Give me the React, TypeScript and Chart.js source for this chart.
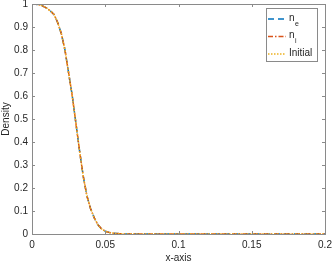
import React, { useEffect, useRef } from "react";
import { Chart, registerables } from "chart.js";

Chart.register(...registerables);

const xValues = [0, 0.0025, 0.005, 0.0075, 0.01, 0.0125, 0.015, 0.0175, 0.02, 0.0225, 0.025, 0.0275, 0.03, 0.0325, 0.035, 0.0375, 0.04, 0.0425, 0.045, 0.0475, 0.05, 0.0525, 0.055, 0.06, 0.065, 0.08, 0.1, 0.12, 0.14, 0.16, 0.18, 0.2];
const neValues = [1.0, 0.999, 0.997, 0.991, 0.982, 0.97, 0.955, 0.92, 0.872, 0.8, 0.7, 0.6, 0.48, 0.36, 0.25, 0.165, 0.11, 0.07, 0.04, 0.022, 0.012, 0.007, 0.004, 0.001, 0, 0, 0, 0, 0, 0, 0, 0];
const niValues = [1.0, 0.999, 0.997, 0.991, 0.982, 0.97, 0.955, 0.92, 0.872, 0.8, 0.7, 0.6, 0.48, 0.36, 0.25, 0.165, 0.11, 0.07, 0.04, 0.022, 0.012, 0.007, 0.004, 0.001, 0, 0, 0, 0, 0, 0, 0, 0];
const initialValues = [1.0, 0.999, 0.997, 0.991, 0.982, 0.97, 0.955, 0.92, 0.872, 0.8, 0.7, 0.6, 0.48, 0.36, 0.25, 0.165, 0.11, 0.07, 0.04, 0.022, 0.012, 0.007, 0.004, 0.001, 0, 0, 0, 0, 0, 0, 0, 0];
const xTickLabels = ["0", "0.05", "0.1", "0.15", "0.2"];
const yTickLabels = ["0", "0.1", "0.2", "0.3", "0.4", "0.5", "0.6", "0.7", "0.8", "0.9", "1"];

const FONT = "'Liberation Sans', Arial, sans-serif";
const TEXT = "#262626";
const AXIS = "#8a8a8a";

const series = [
  { label: "n", sub: "e", values: neValues, color: "#0072BD", dash: [6, 4], order: 3 },
  { label: "n", sub: "i", values: niValues, color: "#D95319", dash: [5, 2, 1.5, 2], order: 2 },
  { label: "Initial", sub: "", values: initialValues, color: "#EDB120", dash: [1.5, 1.5], order: 1 },
];

const decorPlugin = {
  id: "decor",
  afterDraw(chart: any) {
    const ctx = chart.ctx;
    const { left, right, top, bottom } = chart.chartArea;
    const xs = chart.scales.x;
    const ys = chart.scales.y;
    ctx.save();
    ctx.strokeStyle = AXIS;
    ctx.lineWidth = 1;
    ctx.setLineDash([]);
    ctx.strokeRect(Math.round(left) + 0.5, Math.round(top) + 0.5, Math.round(right - left), Math.round(bottom - top));
    const tl = 3;
    ctx.beginPath();
    xs.ticks.forEach((t: any) => {
      const px = Math.round(xs.getPixelForValue(t.value)) + 0.5;
      ctx.moveTo(px, bottom);
      ctx.lineTo(px, bottom - tl);
      ctx.moveTo(px, top);
      ctx.lineTo(px, top + tl);
    });
    ys.ticks.forEach((t: any) => {
      const py = Math.round(ys.getPixelForValue(t.value)) + 0.5;
      ctx.moveTo(left, py);
      ctx.lineTo(left + tl, py);
      ctx.moveTo(right, py);
      ctx.lineTo(right - tl, py);
    });
    ctx.stroke();

    // axis titles
    ctx.fillStyle = TEXT;
    ctx.font = `10px ${FONT}`;
    ctx.textAlign = "center";
    ctx.textBaseline = "middle";
    ctx.fillText("x-axis", (left + right) / 2, 258.5);
    ctx.save();
    ctx.translate(6, (top + bottom) / 2);
    ctx.rotate(-Math.PI / 2);
    ctx.fillText("Density", 0, 0);
    ctx.restore();

    // legend
    const lx = 266, ly = 8, lw = 51, lh = 53;
    ctx.fillStyle = "#ffffff";
    ctx.fillRect(lx, ly, lw, lh);
    ctx.strokeStyle = AXIS;
    ctx.strokeRect(lx + 0.5, ly + 0.5, lw, lh);
    const rows = [19, 36.5, 54];
    series.forEach((s, i) => {
      const y = rows[i];
      ctx.strokeStyle = s.color;
      ctx.lineWidth = 1.5;
      ctx.setLineDash(s.dash);
      ctx.beginPath();
      ctx.moveTo(268, y);
      ctx.lineTo(286, y);
      ctx.stroke();
      ctx.setLineDash([]);
      ctx.fillStyle = TEXT;
      ctx.textAlign = "left";
      ctx.textBaseline = "middle";
      ctx.font = `10px ${FONT}`;
      ctx.fillText(s.label, 289, y - 1);
      if (s.sub) {
        const w = ctx.measureText(s.label).width;
        ctx.font = `7px ${FONT}`;
        ctx.fillText(s.sub, 289 + w + 0.5, y + 5);
      }
    });
    ctx.restore();
  },
};

export default function App() {
  const ref = useRef<HTMLCanvasElement | null>(null);
  useEffect(() => {
    document.body.style.margin = "0";
    const canvas = ref.current;
    if (!canvas) return;
    const chart = new Chart(canvas, {
      type: "line",
      data: {
        datasets: series.map((s) => ({
          label: s.label + s.sub,
          data: xValues.map((x, i) => ({ x, y: s.values[i] })),
          borderColor: s.color,
          borderDash: s.dash,
          borderWidth: 1.5,
          pointRadius: 0,
          fill: false,
          tension: 0,
          order: s.order,
        })),
      },
      options: {
        responsive: false,
        animation: false,
        devicePixelRatio: 1,
        layout: { padding: { top: 4, right: 7, left: 0, bottom: 0 } },
        plugins: { legend: { display: false }, tooltip: { enabled: false } },
        scales: {
          x: {
            type: "linear",
            min: 0,
            max: 0.2,
            grid: { display: false, drawTicks: false },
            border: { display: false },
            ticks: {
              stepSize: 0.05,
              padding: 5,
              maxRotation: 0,
              color: TEXT,
              font: { family: FONT, size: 10 },
              callback: (_v: any, i: number) => xTickLabels[i],
            },
            afterFit: (s: any) => {
              s.height = 30;
              s.paddingLeft = 0;
              s.paddingRight = 0;
            },
          },
          y: {
            type: "linear",
            min: 0,
            max: 1,
            grid: { display: false, drawTicks: false },
            border: { display: false },
            ticks: {
              stepSize: 0.1,
              padding: 4,
              color: TEXT,
              font: { family: FONT, size: 10 },
              callback: (_v: any, i: number) => yTickLabels[i],
            },
            afterFit: (s: any) => {
              s.width = 32;
              s.paddingTop = 0;
              s.paddingBottom = 0;
            },
          },
        },
      },
      plugins: [decorPlugin],
    } as any);
    return () => chart.destroy();
  }, []);
  return (
    <div style={{ position: "absolute", left: 0, top: 0, width: 332, height: 264, background: "#fff" }}>
      <canvas ref={ref} width={332} height={264} style={{ display: "block" }} />
    </div>
  );
}
